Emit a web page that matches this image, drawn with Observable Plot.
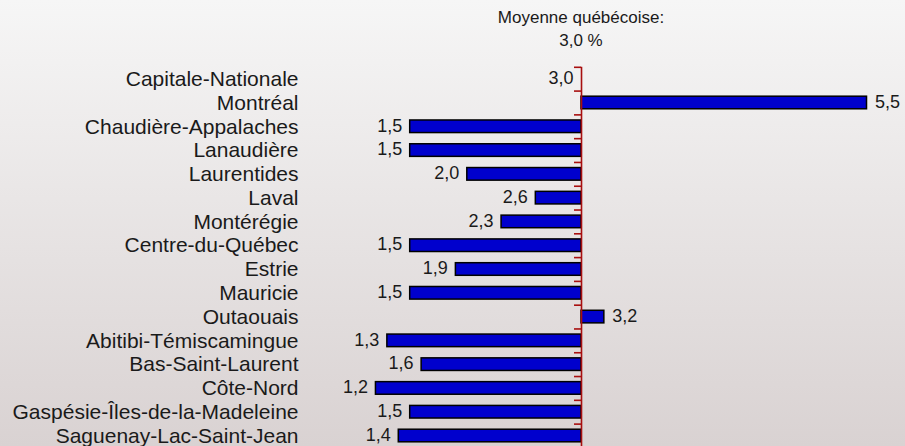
<!DOCTYPE html>
<html>
<head>
<meta charset="utf-8">
<script src="https://cdn.jsdelivr.net/npm/d3@7"></script>
<script src="https://cdn.jsdelivr.net/npm/@observablehq/plot@0.6"></script>
<style>
  html, body { margin: 0; padding: 0; }
  #wrap {
    position: relative; width: 905px; height: 446px; overflow: hidden;
    background: linear-gradient(#f6f6f6, #d9d2d2);
    font-family: "Liberation Sans", Arial, sans-serif;
  }
  #title {
    position: absolute; top: 6px; left: 581px; transform: translateX(-50%);
    text-align: center; font-size: 17px; line-height: 23.4px; color: #1a1a1a; white-space: nowrap;
  }
  #chart { position: absolute; top: 52px; left: 0; line-height: 0; }
</style>
</head>
<body>
<div id="wrap">
  <div id="title"></div>
  <div id="chart"></div>
</div>
<script>
const titleLines = ["Moyenne québécoise:", "3,0 %"];
const average = 3.0;
const regions = [
  "Capitale-Nationale", "Montréal", "Chaudière-Appalaches", "Lanaudière",
  "Laurentides", "Laval", "Montérégie", "Centre-du-Québec", "Estrie",
  "Mauricie", "Outaouais", "Abitibi-Témiscamingue", "Bas-Saint-Laurent",
  "Côte-Nord", "Gaspésie-Îles-de-la-Madeleine", "Saguenay-Lac-Saint-Jean"
];
const values = [3.0, 5.5, 1.5, 1.5, 2.0, 2.6, 2.3, 1.5, 1.9, 1.5, 3.2, 1.3, 1.6, 1.2, 1.5, 1.4];

document.getElementById("title").innerHTML = titleLines.join("<br>");

const data = regions.map((r, i) => ({region: r, value: values[i]}));
const fmt = v => v.toFixed(1).replace(".", ",");

const H = 394, MT = 14.8;
const yRange = [MT, 395.4];
const step = (yRange[1] - yRange[0]) / regions.length;
const pxPerUnit = 114.2;
const tickLen = 7 / pxPerUnit;
const axisColor = "#a80f0f";

const chart = Plot.plot({
  width: 905,
  height: H,
  marginTop: MT,
  marginBottom: 0,
  marginLeft: 300,
  marginRight: 0,
  style: {background: "transparent", fontFamily: "'Liberation Sans', Arial, sans-serif", color: "#1a1a1a"},
  x: {domain: [0.5394, 5.837], axis: null},
  y: {domain: regions, padding: 0, round: false, range: yRange, label: null},
  marks: [
    Plot.axisY({tickSize: 0, tickPadding: 2, fontSize: 21, label: null}),
    Plot.barX(data, {
      y: "region", x1: average, x2: "value",
      fill: "#0000cd", stroke: "#000", strokeWidth: 1.5,
      insetTop: 5.6, insetBottom: 5.6
    }),
    Plot.text(data.filter(d => d.value <= average), {
      y: "region", x: "value", text: d => fmt(d.value),
      textAnchor: "end", dx: -8, dy: -1, fontSize: 18, fill: "#1a1a1a"
    }),
    Plot.text(data.filter(d => d.value > average), {
      y: "region", x: "value", text: d => fmt(d.value),
      textAnchor: "start", dx: 8, dy: -1, fontSize: 18, fill: "#1a1a1a"
    }),
    Plot.ruleX([average], {stroke: axisColor, strokeWidth: 1.6}),
    Plot.ruleY(regions, {
      y: d => d, x1: average - tickLen, x2: average,
      dy: -step / 2, stroke: axisColor, strokeWidth: 1.6
    })
  ]
});
document.getElementById("chart").appendChild(chart);
</script>
</body>
</html>
